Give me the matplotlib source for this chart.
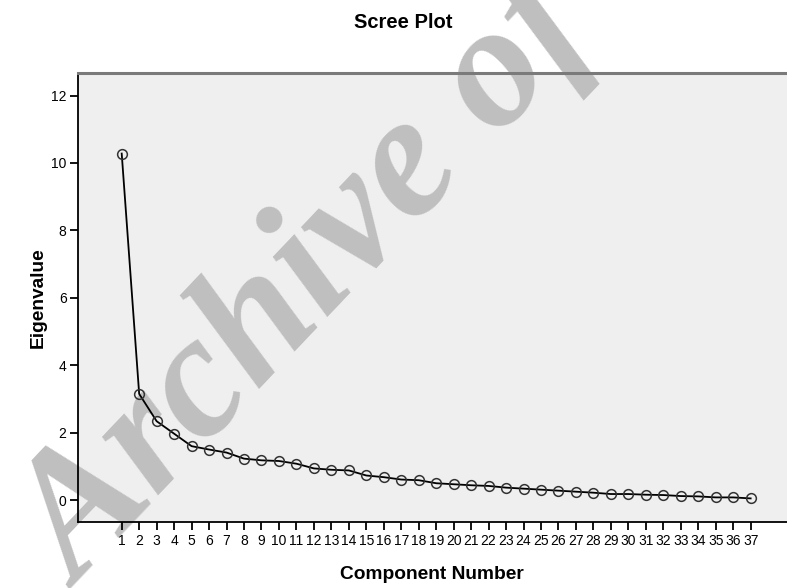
import matplotlib
matplotlib.use("Agg")
import matplotlib.pyplot as plt

# Scree plot values
components = list(range(1, 38))
eigenvalues = [10.28, 3.15, 2.34, 1.97, 1.60, 1.50, 1.41, 1.23, 1.18, 1.16,
               1.08, 0.94, 0.90, 0.88, 0.73, 0.68, 0.61, 0.59, 0.50, 0.47,
               0.44, 0.42, 0.37, 0.34, 0.31, 0.28, 0.25, 0.22, 0.18, 0.18,
               0.16, 0.15, 0.12, 0.11, 0.08, 0.08, 0.05]
y_ticks = [0, 2, 4, 6, 8, 10, 12]

plt.rcParams['font.family'] = ['Liberation Sans', 'DejaVu Sans']

fig = plt.figure(figsize=(7.87, 5.88), dpi=100)
ax = fig.add_axes([0.0987, 0.1128, 0.9013, 0.7625])
ax.set_facecolor('#efefef')

ax.plot(components, eigenvalues, color='black', linewidth=1.3,
        marker='o', markersize=7, markerfacecolor='none',
        markeredgecolor='#333333', markeredgewidth=1.1, zorder=3)

ax.set_xlim(-1.52, 39.08)
ax.set_ylim(-0.64, 12.66)
ax.set_xticks(components)
ax.set_xticklabels([str(c) for c in components])
ax.set_yticks(y_ticks)
ax.set_yticklabels([str(v) for v in y_ticks])
ax.tick_params(axis='both', labelsize=10, colors='black', length=6, width=1.3, pad=2)
ax.tick_params(axis='x', pad=3)

for side in ['left', 'bottom']:
    ax.spines[side].set_color('black')
    ax.spines[side].set_linewidth(1.3)
ax.spines['top'].set_color('#7a7a7a')
ax.spines['top'].set_linewidth(2.2)
ax.spines['right'].set_visible(False)

ax.set_xlabel('Component Number', fontsize=13.8, fontweight='bold', labelpad=13)
ax.set_ylabel('Eigenvalue', fontsize=13.8, fontweight='bold', labelpad=3)
fig.text(0.512, 0.962, 'Scree Plot', ha='center', va='center', fontsize=14.5, fontweight='bold')

# watermark across the chart
ax.text(0.1, -0.002, 'Archive of SID', transform=fig.transFigure, rotation=46.5,
        rotation_mode='anchor', ha='left', va='baseline', fontsize=127,
        family=['Liberation Serif', 'DejaVu Serif'], style='italic', fontweight='bold',
        color='#bfbfbf', clip_on=False, zorder=1.5)

fig.savefig('out.png', dpi=100)
